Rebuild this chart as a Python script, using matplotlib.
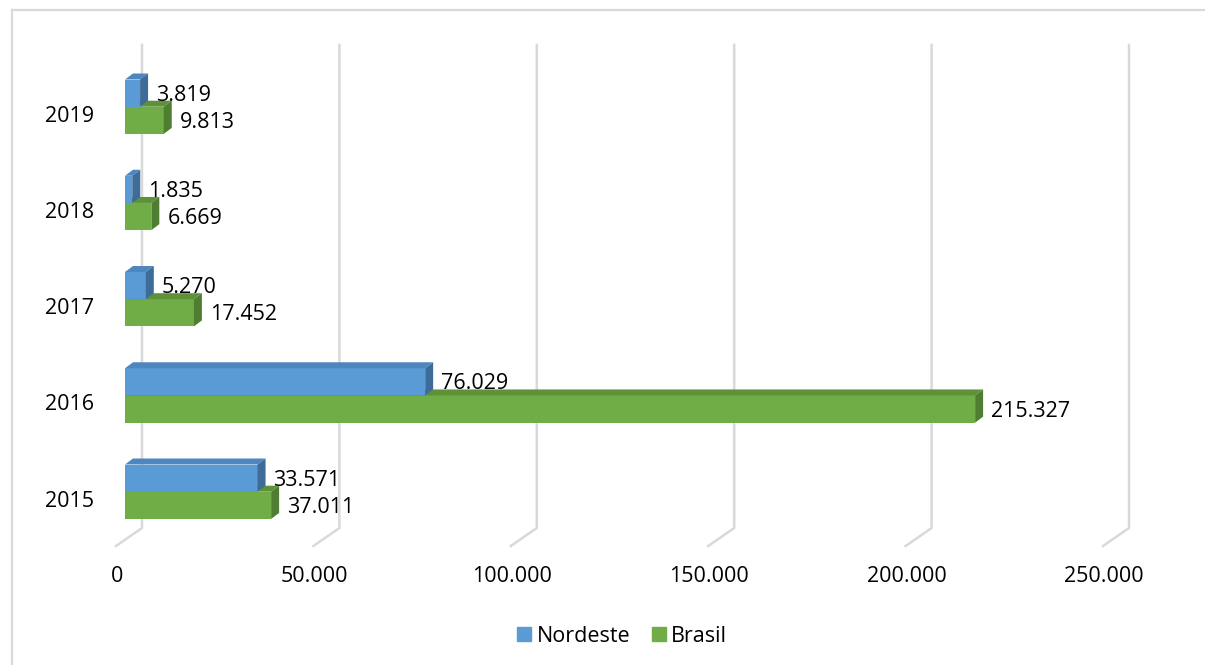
import numpy as np
import matplotlib
matplotlib.use("Agg")
import matplotlib.pyplot as plt
import matplotlib.transforms as mtransforms
from matplotlib.patches import Polygon, Patch
from matplotlib.lines import Line2D

# data
years = ["2015", "2016", "2017", "2018", "2019"]
nordeste = [33571, 76029, 5270, 1835, 3819]
brasil = [37011, 215327, 17452, 6669, 9813]
x_ticks = [0, 50000, 100000, 150000, 200000, 250000]

BLUE, BLUE_TOP, BLUE_SIDE = "#5B9BD5", "#4E86BF", "#3E6C99"
GREEN, GREEN_TOP, GREEN_SIDE = "#70AD47", "#5E9239", "#4F7D31"
GRID = "#D9D9D9"

plt.rcParams["font.family"] = ["Open Sans", "DejaVu Sans"]
FS = 15.5

W, H = 1205, 665
fig = plt.figure(figsize=(W / 100, H / 100), dpi=100)

# light frame (left and top edges only, rest is cut off)
fig.add_artist(Line2D([12 / W, 12 / W], [0, 1 - 10 / H], color=GRID, lw=1.6))
fig.add_artist(Line2D([12 / W, 1], [1 - 10 / H, 1 - 10 / H], color=GRID, lw=1.6))

ax = fig.add_axes([125 / W, (H - 546) / H, (1112 - 125) / W, (546 - 45) / H])
c0, step = 491.7, 96.25
ax.set_xlim(0, 250000)
ax.set_ylim((c0 - 546) / step, (c0 - 45) / step)
for s in ax.spines.values():
    s.set_visible(False)
ax.set_xticks([])

ypos = np.arange(len(years))
bar_h = 27.2 / step
rb = ax.barh(ypos + bar_h / 2, nordeste, height=bar_h, color=BLUE, zorder=4)
rg = ax.barh(ypos - bar_h / 2, brasil, height=bar_h, color=GREEN, zorder=3)

ident = mtransforms.IdentityTransform()
DX, DY = 8, 6


def add_depth(rects, top_c, side_c, z):
    for r in rects:
        x0, y0 = r.get_x(), r.get_y()
        (px0, py0), (px1, py1) = ax.transData.transform(
            [(x0, y0), (x0 + r.get_width(), y0 + r.get_height())])
        top = [(px0, py1), (px1, py1), (px1 + DX, py1 + DY), (px0 + DX, py1 + DY)]
        side = [(px1, py0), (px1, py1), (px1 + DX, py1 + DY), (px1 + DX, py0 + DY)]
        ax.add_patch(Polygon(top, closed=True, color=top_c, transform=ident,
                             zorder=z, clip_on=False, lw=0))
        ax.add_patch(Polygon(side, closed=True, color=side_c, transform=ident,
                             zorder=z, clip_on=False, lw=0))


add_depth(rg, GREEN_TOP, GREEN_SIDE, 3)
add_depth(rb, BLUE_TOP, BLUE_SIDE, 4)

# 3d style gridlines (back wall + floor diagonal)
y_lo, y_hi = ax.get_ylim()
for v in x_ticks:
    (bx, ybot), (_, ytop) = ax.transData.transform([(v, y_lo), (v, y_hi)])
    ax.add_line(Line2D([bx + 17, bx + 17, bx - 9], [ytop, ybot + 18, ybot],
                       color=GRID, lw=1.8, transform=ident, zorder=1,
                       clip_on=False))
    ax.annotate(f"{v:,}".replace(",", "."), xy=(v, 0),
                xycoords=("data", "axes fraction"), xytext=(-8, -31),
                textcoords="offset pixels", ha="center", va="center",
                fontsize=FS, annotation_clip=False)

# value labels
for rects, vals in ((rb, nordeste), (rg, brasil)):
    for r, v in zip(rects, vals):
        ax.annotate(f"{v:,}".replace(",", "."),
                    xy=(v, r.get_y() + r.get_height() / 2),
                    xytext=(16, -2), textcoords="offset pixels",
                    ha="left", va="center", fontsize=FS, zorder=6)

# category labels
ax.set_yticks(ypos, labels=years, fontsize=FS)
ax.tick_params(axis="y", length=0, pad=31 * 72 / 100)
shift = mtransforms.ScaledTranslation(0, -7 / 100, fig.dpi_scale_trans)
for lab in ax.get_yticklabels():
    lab.set_transform(lab.get_transform() + shift)

handles = [Patch(color=BLUE), Patch(color=GREEN)]
fig.legend(handles, ["Nordeste", "Brasil"], loc="center",
           bbox_to_anchor=(622 / W, 1 - 636 / H), ncol=2, frameon=False,
           fontsize=FS, handlelength=0.65, handleheight=0.65,
           handletextpad=0.25, columnspacing=1.0)

fig.savefig("out.png", dpi=100)
